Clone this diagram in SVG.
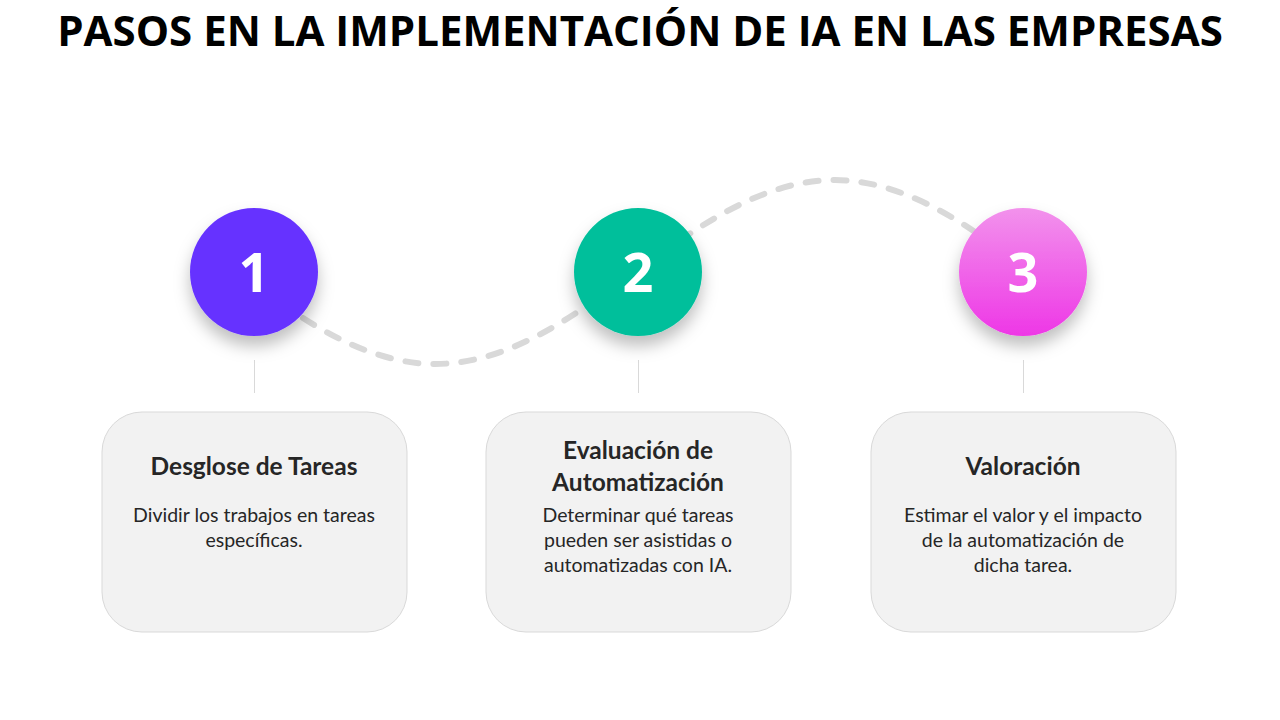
<svg xmlns="http://www.w3.org/2000/svg" width="1280" height="720" viewBox="0 0 1280 720">
  <defs>
    <filter id="shadow" x="-40%" y="-40%" width="180%" height="190%">
      <feDropShadow dx="0" dy="10" stdDeviation="8" flood-color="#000" flood-opacity="0.25"/>
    </filter>
    <linearGradient id="pink" x1="0" y1="0" x2="0" y2="1">
      <stop offset="0" stop-color="#f292ec"/>
      <stop offset="1" stop-color="#ee37e6"/>
    </linearGradient>
  </defs>
  <style>
    .title { font-family: "Open Sans", "Liberation Sans", sans-serif; font-weight: 700; font-size: 42px; fill: #000; }
    .num { font-family: "Open Sans", "Liberation Sans", sans-serif; font-weight: 700; font-size: 54px; fill: #fff; text-anchor: middle; }
    .card { fill: #f2f2f2; stroke: #d9d9d9; stroke-width: 1; }
    .ctitle { font-family: "Lato", "Open Sans", sans-serif; font-weight: 700; font-size: 24.5px; fill: #262626; text-anchor: middle; }
    .cbody { font-family: "Lato", "Open Sans", sans-serif; font-size: 19.5px; fill: #262626; text-anchor: middle; }
    .tick { stroke: #d9d9d9; stroke-width: 1; }
    .dash { fill: none; stroke: #d9d9d9; stroke-width: 6; stroke-linecap: round; stroke-dasharray: 13 15; }
  </style>
  <rect width="1280" height="720" fill="#fff"/>
  <text class="title" x="640" y="46" text-anchor="middle">PASOS EN LA IMPLEMENTACIÓN DE IA EN LAS EMPRESAS</text>

  <g id="connectors">
    <path class="dash" d="M 303 318 C 345 345, 390 364, 435 364 C 580 364, 690 180, 835 180 C 880 180, 928 200, 975 232"/>
    <line class="tick" x1="254.5" y1="360" x2="254.5" y2="393"/>
    <line class="tick" x1="638.5" y1="360" x2="638.5" y2="393"/>
    <line class="tick" x1="1023.5" y1="360" x2="1023.5" y2="393"/>
  </g>

  <g id="step1">
    <circle cx="254" cy="272" r="64" fill="#6633ff" filter="url(#shadow)"/>
    <text class="num" x="254" y="292">1</text>
  </g>
  <g id="step2">
    <circle cx="638" cy="272" r="64" fill="#00bf9b" filter="url(#shadow)"/>
    <text class="num" x="638" y="292">2</text>
  </g>
  <g id="step3">
    <circle cx="1023" cy="272" r="64" fill="url(#pink)" filter="url(#shadow)"/>
    <text class="num" x="1023" y="292">3</text>
  </g>

  <g id="card1">
    <rect class="card" x="102" y="412" width="305" height="220" rx="40"/>
    <text class="ctitle" x="254" y="475">Desglose de Tareas</text>
    <text class="cbody" x="254" y="522">Dividir los trabajos en tareas</text>
    <text class="cbody" x="254" y="547">específicas.</text>
  </g>
  <g id="card2">
    <rect class="card" x="486" y="412" width="305" height="220" rx="40"/>
    <text class="ctitle" x="638" y="459">Evaluación de</text>
    <text class="ctitle" x="638" y="491">Automatización</text>
    <text class="cbody" x="638" y="522">Determinar qué tareas</text>
    <text class="cbody" x="638" y="547">pueden ser asistidas o</text>
    <text class="cbody" x="638" y="572">automatizadas con IA.</text>
  </g>
  <g id="card3">
    <rect class="card" x="871" y="412" width="305" height="220" rx="40"/>
    <text class="ctitle" x="1023" y="475">Valoración</text>
    <text class="cbody" x="1023" y="522">Estimar el valor y el impacto</text>
    <text class="cbody" x="1023" y="547">de la automatización de</text>
    <text class="cbody" x="1023" y="572">dicha tarea.</text>
  </g>
</svg>
